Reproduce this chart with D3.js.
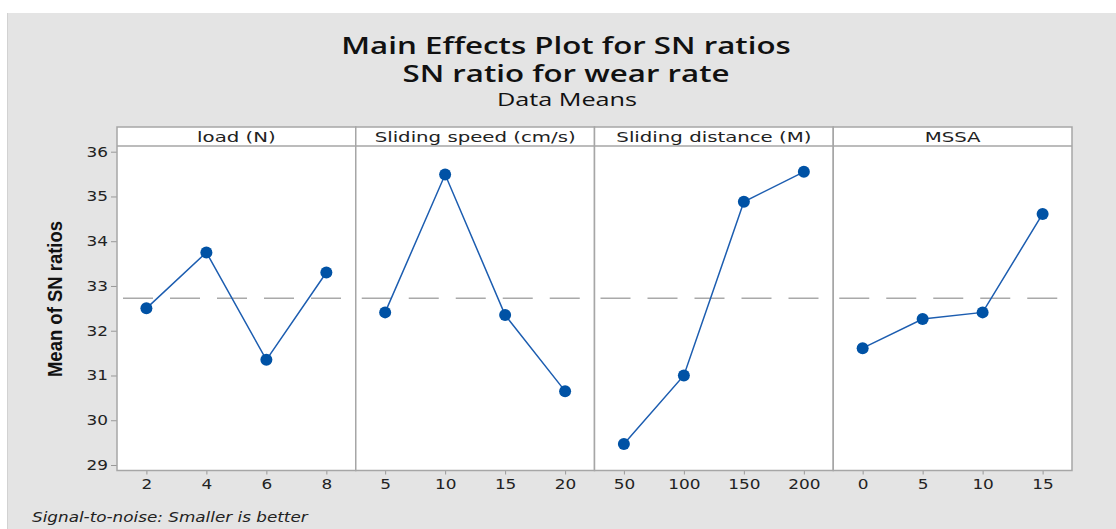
<!DOCTYPE html>
<html>
<head>
<meta charset="utf-8">
<script src="https://cdn.jsdelivr.net/npm/d3@7"></script>
<style>
  body { margin: 0; background: #fff; }
  svg { display: block; }
</style>
</head>
<body>
<div class="chart"></div>
<script>
// data
const factors = ['load  (N)', 'Sliding speed (cm/s)', 'Sliding distance (M)', 'MSSA'];
const levels = [
  ['2', '4', '6', '8'],
  ['5', '10', '15', '20'],
  ['50', '100', '150', '200'],
  ['0', '5', '10', '15']
];
const snMeans = [
  [32.50, 33.75, 31.35, 33.30],
  [32.41, 35.49, 32.35, 30.65],
  [29.47, 31.00, 34.88, 35.55],
  [31.61, 32.26, 32.41, 34.61]
];
const yTicks = [29, 30, 31, 32, 33, 34, 35, 36];
const grandMean = d3.mean(snMeans.flat());

const width = 1116, height = 529;
const plotLeft = 117, plotRight = 1072, plotTop = 127, stripH = 19, plotBottom = 470.5;
const panelW = (plotRight - plotLeft) / factors.length;

// the reference picture is stretched sideways, so stretch the text the same way
function stretch(sel, k) {
  sel.each(function() {
    const len = this.getComputedTextLength();
    d3.select(this).attr('textLength', len * k).attr('lengthAdjust', 'spacingAndGlyphs');
  });
}

const svg = d3.select('.chart').append('svg')
  .attr('width', width)
  .attr('height', height);

// gray background
svg.append('rect')
  .attr('x', 7).attr('y', 13)
  .attr('width', width - 7).attr('height', height - 13)
  .attr('fill', '#e4e4e4');
svg.append('line')
  .attr('x1', 7.5).attr('x2', 7.5).attr('y1', 13).attr('y2', height)
  .attr('stroke', '#d2d2d2');

// titles
const t1 = svg.append('text').attr('x', 566).attr('y', 54)
  .attr('text-anchor', 'middle')
  .style('font-family', 'Open Sans, Noto Sans, sans-serif')
  .style('font-size', '22.5px').style('font-weight', 600).style('fill', '#111')
  .text('Main Effects Plot for SN ratios');
const t2 = svg.append('text').attr('x', 566).attr('y', 82)
  .attr('text-anchor', 'middle')
  .style('font-family', 'Open Sans, Noto Sans, sans-serif')
  .style('font-size', '22.5px').style('font-weight', 600).style('fill', '#111')
  .text('SN ratio for wear rate');
const t3 = svg.append('text').attr('x', 567).attr('y', 106)
  .attr('text-anchor', 'middle')
  .style('font-family', 'Open Sans, Noto Sans, sans-serif')
  .style('font-size', '18px').style('fill', '#111')
  .text('Data Means');
stretch(t1, 1.39);
stretch(t2, 1.39);
stretch(t3, 1.4);

const y = d3.scaleLinear().domain([29, 36]).range([465, 151.7]);

// y axis
const yAxis = svg.append('g')
  .attr('transform', `translate(${plotLeft},0)`)
  .call(d3.axisLeft(y).tickValues(yTicks).tickSize(6).tickPadding(3).tickFormat(d3.format('d')));
yAxis.select('.domain').remove();
yAxis.selectAll('.tick line').attr('stroke', '#999');
yAxis.selectAll('.tick text')
  .style('font-family', 'DejaVu Sans, sans-serif')
  .style('font-size', '13.5px').style('fill', '#222');
stretch(yAxis.selectAll('.tick text'), 1.25);

const yl = svg.append('text')
  .attr('transform', 'translate(62,299) rotate(-90)')
  .attr('text-anchor', 'middle')
  .style('font-family', 'Liberation Sans Narrow, Arial Narrow, sans-serif')
  .style('font-size', '21px').style('font-weight', 'bold').style('fill', '#111')
  .text('Mean of SN ratios');
stretch(yl, 0.88);

factors.forEach((f, i) => {
  const x0 = plotLeft + i * panelW;
  const g = svg.append('g').attr('transform', `translate(${x0},0)`);

  g.append('rect')
    .attr('x', 0).attr('y', plotTop)
    .attr('width', panelW).attr('height', plotBottom - plotTop)
    .attr('fill', '#fff');

  const x = d3.scalePoint().domain(levels[i]).range([0, panelW]).padding(0.49);

  // mean reference line
  g.append('line')
    .attr('x1', 0).attr('x2', panelW)
    .attr('y1', y(grandMean)).attr('y2', y(grandMean))
    .attr('stroke', '#a9a9a9').attr('stroke-width', 1.5)
    .attr('stroke-dasharray', '30,17')
    .attr('stroke-dashoffset', -6);

  const pts = levels[i].map((l, j) => ({ l: l, v: snMeans[i][j] }));

  g.append('path')
    .datum(pts)
    .attr('fill', 'none')
    .attr('stroke', '#1c5db0')
    .attr('stroke-width', 1.5)
    .attr('d', d3.line().x(d => x(d.l)).y(d => y(d.v)));

  g.selectAll('circle')
    .data(pts)
    .enter().append('circle')
    .attr('cx', d => x(d.l))
    .attr('cy', d => y(d.v))
    .attr('r', 6)
    .attr('fill', '#0052a5');

  // x axis
  const xAxis = g.append('g')
    .attr('transform', `translate(0,${plotBottom})`)
    .call(d3.axisBottom(x).tickSize(4).tickPadding(5));
  xAxis.select('.domain').remove();
  xAxis.selectAll('.tick line').attr('stroke', '#999');
  xAxis.selectAll('.tick text')
    .style('font-family', 'DejaVu Sans, sans-serif')
    .style('font-size', '13.5px').style('fill', '#222');
  stretch(xAxis.selectAll('.tick text'), 1.25);

  // strip header
  g.append('line')
    .attr('x1', 0).attr('x2', panelW)
    .attr('y1', plotTop + stripH).attr('y2', plotTop + stripH)
    .attr('stroke', '#a6a6a6').attr('stroke-width', 1.5);
  const ht = g.append('text')
    .attr('x', panelW / 2).attr('y', plotTop + 15)
    .attr('text-anchor', 'middle')
    .style('font-family', 'DejaVu Sans, sans-serif')
    .style('font-size', '14.5px').style('fill', '#222')
    .text(f);
  stretch(ht, 1.36);

  g.append('rect')
    .attr('x', 0).attr('y', plotTop)
    .attr('width', panelW).attr('height', plotBottom - plotTop)
    .attr('fill', 'none')
    .attr('stroke', '#a6a6a6').attr('stroke-width', 1.5);
});

const foot = svg.append('text')
  .attr('x', 32).attr('y', 522)
  .style('font-family', 'DejaVu Sans, sans-serif')
  .style('font-size', '14px').style('font-style', 'italic').style('fill', '#222')
  .text('Signal-to-noise: Smaller is better');
stretch(foot, 1.2);
</script>
</body>
</html>
